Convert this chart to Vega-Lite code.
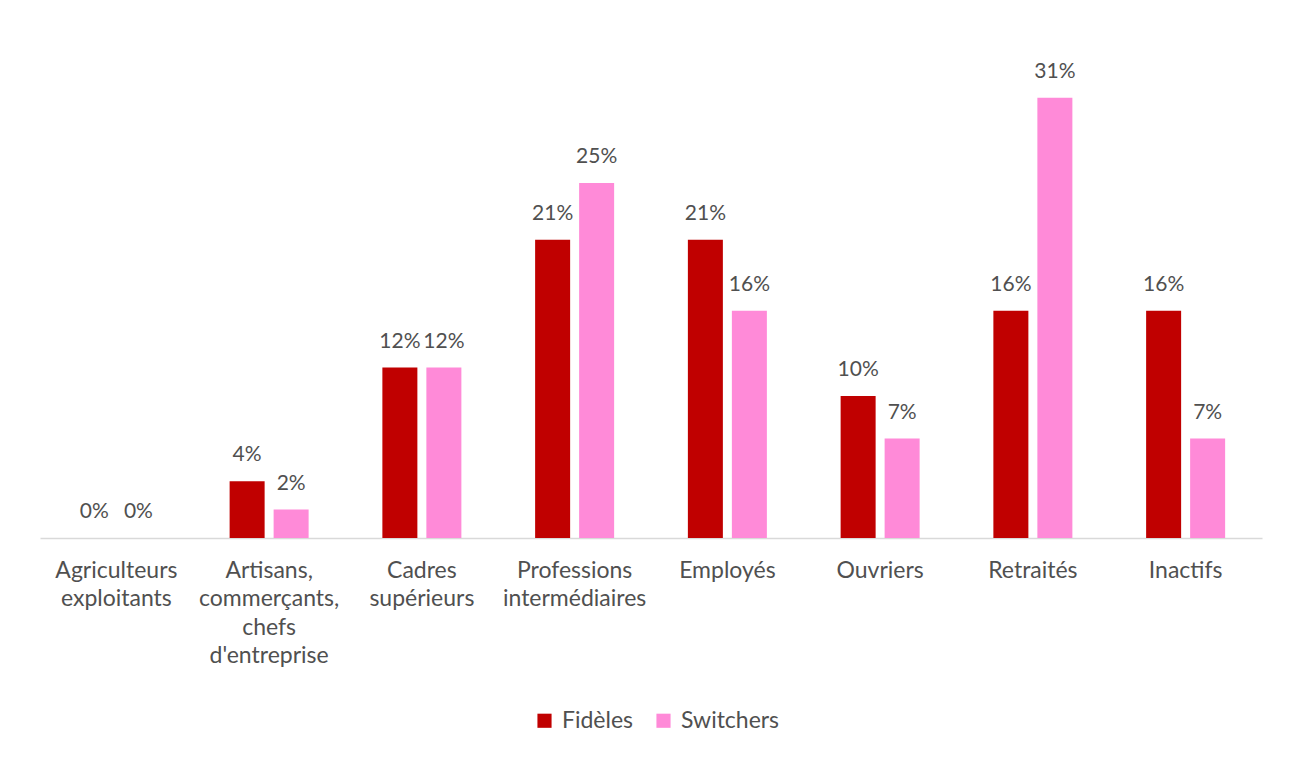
{
  "$schema": "https://vega.github.io/schema/vega-lite/v6.json",
  "autosize": {"type": "none"},
  "width": 1222,
  "height": 497,
  "padding": {"left": 40, "top": 41, "right": 37, "bottom": 220},
  "background": "white",
  "config": {
    "view": {"stroke": null},
    "font": "Lato"
  },
  "data": {
    "values": [
      {"cat": "Agriculteurs|exploitants", "group": "Fidèles", "value": 0},
      {"cat": "Agriculteurs|exploitants", "group": "Switchers", "value": 0},
      {"cat": "Artisans,|commerçants,|chefs|d'entreprise", "group": "Fidèles", "value": 0.04},
      {"cat": "Artisans,|commerçants,|chefs|d'entreprise", "group": "Switchers", "value": 0.02},
      {"cat": "Cadres|supérieurs", "group": "Fidèles", "value": 0.12},
      {"cat": "Cadres|supérieurs", "group": "Switchers", "value": 0.12},
      {"cat": "Professions|intermédiaires", "group": "Fidèles", "value": 0.21},
      {"cat": "Professions|intermédiaires", "group": "Switchers", "value": 0.25},
      {"cat": "Employés", "group": "Fidèles", "value": 0.21},
      {"cat": "Employés", "group": "Switchers", "value": 0.16},
      {"cat": "Ouvriers", "group": "Fidèles", "value": 0.10},
      {"cat": "Ouvriers", "group": "Switchers", "value": 0.07},
      {"cat": "Retraités", "group": "Fidèles", "value": 0.16},
      {"cat": "Retraités", "group": "Switchers", "value": 0.31},
      {"cat": "Inactifs", "group": "Fidèles", "value": 0.16},
      {"cat": "Inactifs", "group": "Switchers", "value": 0.07}
    ]
  },
  "encoding": {
    "x": {
      "field": "cat",
      "type": "nominal",
      "sort": null,
      "title": null,
      "scale": {"paddingInner": 0.424, "paddingOuter": 0.212},
      "axis": {
        "labelAngle": 0,
        "labelExpr": "split(datum.label, '|')",
        "labelFont": "Lato",
        "labelFontSize": 23,
        "labelColor": "#505050",
        "labelLineHeight": 28.5,
        "labelPadding": 21,
        "labelBaseline": "top",
        "ticks": false,
        "domainColor": "#d9d9d9",
        "domainWidth": 1.5,
        "labelLimit": 0
      }
    },
    "xOffset": {
      "field": "group",
      "type": "nominal",
      "sort": ["Fidèles", "Switchers"],
      "scale": {"paddingInner": 0.2045, "paddingOuter": 0.102}
    },
    "y": {
      "field": "value",
      "type": "quantitative",
      "scale": {"domain": [0, 0.35]},
      "axis": null
    }
  },
  "layer": [
    {
      "mark": {"type": "bar"},
      "encoding": {
        "color": {
          "field": "group",
          "type": "nominal",
          "sort": ["Fidèles", "Switchers"],
          "scale": {"domain": ["Fidèles", "Switchers"], "range": ["#C00000", "#FF8AD8"]},
          "legend": {
            "title": null,
            "orient": "none",
            "legendX": 493,
            "legendY": 668,
            "direction": "horizontal",
            "symbolType": "square",
            "symbolSize": 200,
            "symbolStrokeWidth": 0,
            "labelFont": "Lato",
            "labelFontSize": 23,
            "labelColor": "#505050",
            "columnPadding": 18,
            "labelOffset": 6
          }
        }
      }
    },
    {
      "mark": {"type": "text", "baseline": "bottom", "dy": -16, "fontSize": 21, "color": "#505050", "font": "Lato"},
      "encoding": {
        "text": {"field": "value", "type": "quantitative", "format": ".0%"}
      }
    }
  ]
}
